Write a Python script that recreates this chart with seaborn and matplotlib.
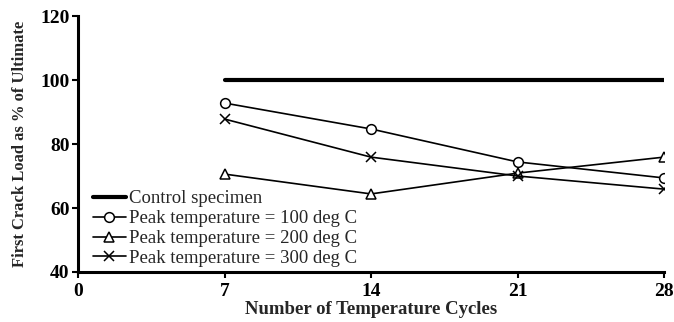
import matplotlib
matplotlib.use("Agg")
import matplotlib.pyplot as plt
import seaborn as sns
import pandas as pd

cycles = [7, 14, 21, 28]
control = [100, 100, 100, 100]
peak_100 = [92.8, 84.7, 74.4, 69.4]
peak_200 = [70.6, 64.4, 70.9, 75.9]
peak_300 = [87.8, 75.9, 70.0, 65.9]
labels = ["Control specimen", "Peak temperature = 100 deg C",
          "Peak temperature = 200 deg C", "Peak temperature = 300 deg C"]
xticks = [0, 7, 14, 21, 28]
yticks = [40, 60, 80, 100, 120]

sns.set_theme(style="ticks")
plt.rcParams['font.family'] = ['Liberation Serif', 'DejaVu Serif']
plt.rcParams['font.weight'] = 'bold'

fig = plt.figure(figsize=(6.74, 3.22), dpi=100)
ax = fig.add_axes([78/674, 1-272/322, (664-78)/674, (272-16)/322])

series = [control, peak_100, peak_200, peak_300]
markers = [None, 'o', '^', 'x']
widths = [3.0, 1.2, 1.2, 1.2]
for vals, lab, m, lw in zip(series, labels, markers, widths):
    df = pd.DataFrame({"x": cycles, "y": vals})
    kw = dict(marker=m, markersize=7, markerfacecolor='white',
              markeredgecolor='black', markeredgewidth=1.1) if m else {}
    sns.lineplot(data=df, x="x", y="y", ax=ax, color='black', linewidth=lw,
                 label=lab, **kw)

ax.set_xlim(0, 28)
ax.set_ylim(40, 120)
ax.set_xticks(xticks)
ax.set_yticks(yticks)
ax.tick_params(axis='both', labelsize=14, width=1.5, length=4, direction='out',
               colors='black', pad=2)
ax.tick_params(axis='x', pad=4)
for t in ax.get_xticklabels() + ax.get_yticklabels():
    t.set_fontweight('bold')
for s in ['top', 'right']:
    ax.spines[s].set_visible(False)
for s in ['left', 'bottom']:
    ax.spines[s].set_linewidth(2.2)
    ax.spines[s].set_color('black')

ax.set_xlabel("Number of Temperature Cycles", fontsize=13.5, fontweight='bold',
              labelpad=1)
ax.set_ylabel("First Crack Load as % of Ultimate", fontsize=12,
              fontweight='bold', labelpad=9)

leg = ax.legend(loc='lower left', frameon=False, fontsize=13.5,
                handlelength=1.8, handletextpad=0.15, labelspacing=0.15,
                borderaxespad=0.0, bbox_to_anchor=(0.012, -0.01))
for t in leg.get_texts():
    t.set_fontweight('normal')

fig.savefig("out.png", dpi=100)
